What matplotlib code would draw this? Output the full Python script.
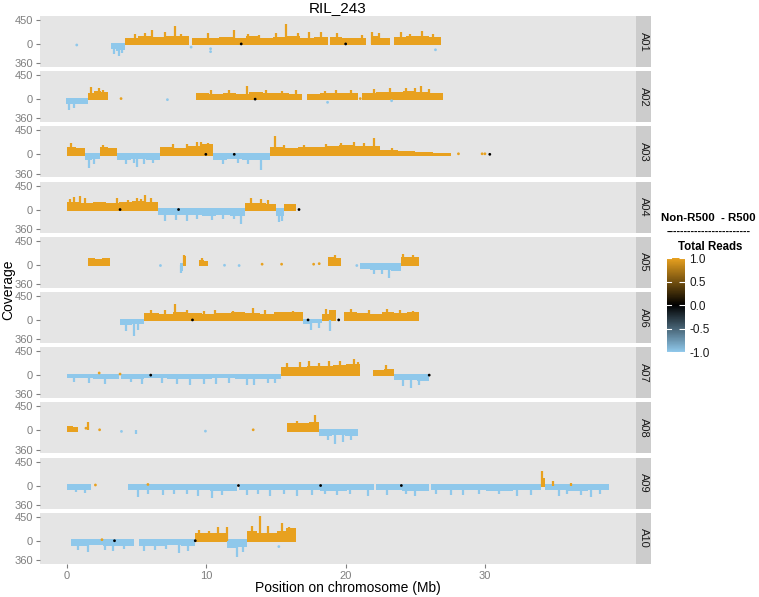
import numpy as np
import matplotlib
matplotlib.use("Agg")
import matplotlib.pyplot as plt
from matplotlib.colors import LinearSegmentedColormap, Normalize
import matplotlib.colorbar as mcb

plt.rcParams['font.family'] = ['Liberation Sans', 'DejaVu Sans']

# ---- data ----
# blocks: (start Mb, end Mb, ratio sign, [coverage heights along the block])
# cols:   (Mb, coverage) columns of points sticking out of a block
# pts:    (Mb, coverage, ratio) isolated points
chroms = ["A01", "A02", "A03", "A04", "A05", "A06", "A07", "A08", "A09", "A10"]

a01_blocks = [(3.15, 4.15, -1, [-100, -140, -120]),
              (4.15, 8.78, 1, [120, 140, 130, 150, 140]),
              (8.97, 18.7, 1, [120, 105, 130, 115, 140, 120, 130, 140, 115, 130]),
              (18.9, 21.45, 1, [130, 105, 120]),
              (21.8, 23.2, 1, [140, 120]),
              (23.45, 26.86, 1, [130, 150, 140, 130])]
a01_cols = [(3.4, -190), (3.7, -220), (3.95, -170), (4.9, 190), (5.6, 210), (6.1, 265), (7.0, 220),
            (7.75, 340), (8.2, 180), (10.1, 210), (12.0, 265), (13.0, 190), (13.8, 170), (15.0, 210),
            (15.7, 370), (16.6, 210), (17.4, 230), (18.2, 225), (19.4, 210), (21.2, 170), (21.9, 230),
            (22.4, 210), (24.0, 230), (24.6, 190), (25.5, 240), (26.3, 190)]
a01_pts = [(0.69, -20, -1), (8.9, -60, -1), (10.3, -145, -1), (10.3, -90, -1), (26.45, -110, -1),
           (12.5, 0, 0), (20.0, 0, 0)]

a02_blocks = [(-0.05, 1.48, -1, [-100, -85, -100]),
              (1.48, 2.9, 1, [110, 150, 130]),
              (9.25, 16.9, 1, [110, 95, 120, 105, 130, 110, 120, 105]),
              (17.2, 20.9, 1, [95, 110, 120, 110]),
              (21.2, 27.0, 1, [120, 140, 130, 150, 140, 120])]
a02_cols = [(0.15, -210), (0.5, -170), (1.7, 220), (2.3, 200), (2.6, 180), (10.3, 180), (11.6, 170),
            (12.95, 245), (14.3, 180), (15.4, 160), (16.4, 170), (18.5, 160), (19.3, 170), (20.4, 180),
            (22.0, 190), (23.2, 200), (24.3, 200), (25.0, 210), (25.4, 250), (26.0, 190)]
a02_pts = [(3.87, 10, 1), (7.2, -10, -1), (18.7, -60, -1), (23.3, -30, -1), (21.05, 10, 1), (13.5, 0, 0)]

a03_blocks = [(0.0, 1.27, 1, [130, 115]),
              (1.27, 2.35, -1, [-110, -85]),
              (2.35, 3.58, 1, [140, 125]),
              (3.58, 6.7, -1, [-110, -95, -115]),
              (6.7, 10.45, 1, [140, 125, 150, 190]),
              (10.45, 14.6, -1, [-110, -95, -115, -105]),
              (14.6, 22.5, 1, [140, 125, 130, 140, 160, 180, 160, 150]),
              (22.5, 25.0, 1, [80, 55]),
              (25.0, 27.6, 1, [40, 30])]
a03_cols = [(0.3, 220), (1.6, -260), (1.9, -190), (2.6, 170), (4.2, -190), (4.8, -170), (5.0, -230),
            (5.5, -180), (6.2, -170), (7.6, 190), (8.6, 200), (9.3, 230), (9.6, 240), (10.1, 210),
            (11.2, -180), (12.3, -160), (13.0, -190), (13.9, -300), (14.9, 350), (15.6, 180), (17.0, 170),
            (18.6, 190), (19.7, 210), (20.6, 230), (21.3, 210), (22.0, 300), (23.3, 110)]
a03_pts = [(28.1, 10, 1), (29.8, 10, 1), (30.0, 10, 1), (30.35, 0, 0), (9.96, 0, 0), (12.0, 0, 0)]

a04_blocks = [(0.0, 6.55, 1, [150, 125, 140, 125, 150, 160, 140]),
              (6.55, 12.76, -1, [-95, -105, -95, -115, -105, -115]),
              (12.76, 15.0, 1, [120, 130, 110]),
              (15.0, 15.6, -1, [-120]),
              (15.6, 16.4, 1, [100, 110])]
a04_cols = [(0.2, 200), (0.5, 240), (0.9, 250), (1.3, 210), (3.6, 220), (4.4, 180), (5.0, 220),
            (5.3, 200), (5.6, 275), (6.0, 210), (7.0, -210), (7.8, -190), (8.6, -220), (9.3, -180),
            (10.4, -190), (11.2, -170), (12.0, -180), (12.45, -275), (13.2, 210), (13.9, 190),
            (14.4, 180), (15.2, -230), (15.45, -210)]
a04_pts = [(3.8, 0, 0), (8.0, 0, 0), (16.65, 0, 0)]

a05_blocks = [(1.5, 3.05, 1, [130, 110, 130]),
              (8.1, 8.35, -1, [-120]),
              (8.35, 8.5, 1, [160]),
              (9.5, 10.1, 1, [85, 70]),
              (18.7, 19.7, 1, [150, 130]),
              (21.0, 24.0, -1, [-85, -105, -95, -115]),
              (24.0, 25.3, 1, [140, 150])]
a05_cols = [(8.2, -150), (8.4, 180), (9.7, 120), (19.2, 190), (22.0, -180), (22.6, -170), (23.1, -250),
            (24.1, 210), (24.8, 180)]
a05_pts = [(6.7, -15, -1), (11.3, -10, -1), (12.35, -15, -1), (14.0, 10, 1), (15.4, 10, 1),
           (17.7, 10, 1), (18.1, 20, 1), (20.8, -15, -1)]

a06_blocks = [(3.76, 5.54, -1, [-100, -85]),
              (5.54, 16.93, 1, [130, 115, 140, 125, 115, 130, 140, 125, 115, 140, 150]),
              (16.93, 18.3, -1, [-85, -60]),
              (18.3, 19.3, 1, [110, 180]),
              (19.9, 25.3, 1, [140, 125, 115, 140, 125, 150])]
a06_cols = [(4.2, -210), (4.8, -300), (5.1, -190), (6.0, 190), (7.0, 180), (7.77, 295), (8.6, 180),
            (9.8, 170), (10.6, 180), (11.9, 170), (13.36, 220), (14.2, 180), (16.2, 170), (17.5, -180),
            (18.1, -150), (18.85, -210), (18.6, 210), (19.0, 190), (20.4, 200), (21.7, 180),
            (22.96, 210), (23.9, 190), (24.8, 170)]
a06_pts = [(19.5, 0, 0), (9.0, 0, 0), (17.3, 0, 0)]

a07_blocks = [(0.0, 3.75, -1, [-60, -70]),
              (3.85, 15.35, -1, [-70, -60, -80, -70, -60, -80, -70]),
              (15.35, 21.0, 1, [160, 150, 180, 170, 190, 200]),
              (21.95, 23.5, 1, [95, 115]),
              (23.5, 25.98, -1, [-95, -85, -105])]
a07_cols = [(0.5, -120), (1.6, -150), (2.7, -170), (4.6, -130), (5.4, -160), (6.8, -140), (7.9, -170),
            (8.8, -180), (9.8, -170), (10.7, -160), (11.6, -150), (12.9, -190), (13.4, -180),
            (14.4, -150), (14.9, -140), (15.8, 230), (16.7, 250), (17.4, 270), (18.1, 230), (18.8, 260),
            (19.6, 270), (20.6, 300), (20.9, 250), (22.9, 190), (24.1, -210), (24.7, -250), (25.3, -190)]
a07_pts = [(2.3, 40, 1), (3.8, 20, 1), (6.0, 0, 0), (26.0, 0, 0)]

a08_blocks = [(0.0, 0.8, 1, [85, 70]),
              (15.8, 18.1, 1, [140, 130, 150]),
              (18.1, 20.9, -1, [-110, -95, -110])]
a08_cols = [(1.5, 160), (4.94, -70), (17.8, 290), (16.5, 180), (18.7, -190), (19.2, -250),
            (19.8, -210), (20.4, -180)]
a08_pts = [(1.35, 40, 1), (2.33, 10, 1), (3.9, -20, -1), (9.93, -15, -1), (13.36, 10, 1)]

a09_blocks = [(0.0, 1.7, -1, [-85, -75]),
              (4.39, 12.2, -1, [-85, -75, -85, -95]),
              (12.35, 22.0, -1, [-85, -75, -85, -95, -85]),
              (22.15, 26.0, -1, [-85, -95]),
              (26.15, 34.0, -1, [-85, -75, -95, -85]),
              (34.0, 34.35, 1, [140]),
              (34.35, 38.9, -1, [-85, -95, -85])]
a09_cols = [(0.6, -130), (1.3, -140), (5.1, -210), (5.8, -150), (6.9, -170), (7.7, -160), (8.6, -150),
            (9.4, -190), (10.4, -230), (11.1, -170), (12.9, -180), (13.7, -160), (14.6, -190),
            (15.6, -160), (16.5, -200), (17.6, -170), (18.5, -150), (19.4, -180), (20.3, -160),
            (21.6, -190), (23.0, -180), (24.3, -160), (25.0, -190), (26.5, -160), (27.6, -180),
            (28.4, -170), (29.6, -150), (31.0, -160), (32.3, -190), (33.3, -180), (34.1, 280),
            (34.9, 90), (35.3, -200), (35.9, -160), (36.2, 50), (36.9, -170), (37.6, -210), (38.3, -160)]
a09_pts = [(2.03, 10, 1), (5.8, 20, 1), (12.3, 0, 0), (18.2, 0, 0), (24.0, 0, 0)]

a10_blocks = [(0.29, 4.82, -1, [-95, -85, -105, -95]),
              (5.18, 9.18, -1, [-95, -105, -85, -95]),
              (9.18, 11.47, 1, [140, 150, 140]),
              (11.47, 12.9, -1, [-130, -115]),
              (12.9, 16.46, 1, [180, 150, 140, 190, 240])]
a10_cols = [(0.8, -180), (1.5, -210), (2.7, -170), (3.3, -190), (4.1, -160), (5.5, -190), (6.3, -170),
            (7.1, -160), (8.0, -230), (8.7, -190), (9.5, 210), (10.2, 190), (10.8, 250), (11.45, 250),
            (12.2, -300), (12.6, -210), (13.3, 270), (13.85, 460), (14.4, 280), (15.4, 325), (15.9, 250)]
a10_pts = [(2.5, 20, 1), (15.2, -110, -1), (3.4, 0, 0), (9.2, 0, 0)]

all_blocks = [a01_blocks, a02_blocks, a03_blocks, a04_blocks, a05_blocks,
              a06_blocks, a07_blocks, a08_blocks, a09_blocks, a10_blocks]
all_cols = [a01_cols, a02_cols, a03_cols, a04_cols, a05_cols,
            a06_cols, a07_cols, a08_cols, a09_cols, a10_cols]
all_pts = [a01_pts, a02_pts, a03_pts, a04_pts, a05_pts,
           a06_pts, a07_pts, a08_pts, a09_pts, a10_pts]

xticks = [0, 10, 20, 30]
yticks = [-360, 0, 450]
ytick_labels = ["360", "0", "450"]

# ---- style ----
ORANGE = "#E8A11F"
BLUE = "#8FC8EB"
cmap = LinearSegmentedColormap.from_list("cov", [BLUE, "#000000", ORANGE])
norm = Normalize(-1, 1)
GRAY = "#7F7F7F"

W, H = 759, 597
fig = plt.figure(figsize=(W / 100, H / 100), dpi=100)

left, right = 40, 636
ph, pitch, top0 = 51, 55.2, 16

for i, name in enumerate(chroms):
    top = top0 + i * pitch
    bottom = 1 - (top + ph) / H
    ax = fig.add_axes([left / W, bottom, (right - left) / W, ph / H])
    ax.set_facecolor("#E5E5E5")
    for sp in ax.spines.values():
        sp.set_visible(False)

    for s, e, sign, hs in all_blocks[i]:
        n = len(hs)
        w = (e - s) / n
        lefts = s + w * np.arange(n)
        # dots sitting on the zero line poke a little past it
        ax.bar(lefts, np.array(hs) + 25 * sign, width=w, bottom=-25 * sign, align="edge",
               color=cmap(norm(sign)), linewidth=0)

    for x, y in all_cols[i]:
        c = cmap(norm(np.sign(y)))
        ax.vlines(x, 0, y, color=c, linewidth=1.6)

    if all_pts[i]:
        px = [p[0] for p in all_pts[i]]
        py = [p[1] for p in all_pts[i]]
        pc = [cmap(norm(p[2])) for p in all_pts[i]]
        ax.scatter(px, py, s=4, c=pc, linewidths=0, zorder=3)

    ax.set_xlim(-1.95, 40.85)
    ax.set_ylim(-433, 524)
    ax.set_yticks(yticks)
    ax.set_yticklabels(ytick_labels)
    ax.tick_params(axis="y", length=3, color=GRAY, labelcolor=GRAY, labelsize=8, pad=2)
    ax.set_xticks(xticks)
    if i == len(chroms) - 1:
        ax.tick_params(axis="x", length=3, color=GRAY, labelcolor=GRAY, labelsize=8, pad=2)
    else:
        ax.tick_params(axis="x", length=0, labelbottom=False)

    # facet strip
    st = fig.add_axes([right / W, bottom, 15 / W, ph / H])
    st.set_facecolor("#CCCCCC")
    st.set_xticks([])
    st.set_yticks([])
    for sp in st.spines.values():
        sp.set_visible(False)
    st.text(0.5, 0.5, name, rotation=-90, ha="center", va="center", fontsize=8,
            color="#1A1A1A", transform=st.transAxes)

fig.text((left + right) / 2 / W, 1 - 8 / H, "RIL_243", ha="center", va="center", fontsize=11)
fig.text(348 / W, 1 - 588 / H, "Position on chromosome (Mb)", ha="center", va="center", fontsize=10)
fig.text(8 / W, 1 - 290 / H, "Coverage", ha="center", va="center", rotation=90, fontsize=10)

# legend
fig.text(708 / W, 1 - 218 / H, "Non-R500  - R500", ha="center", va="center", fontsize=8.2,
         fontweight="bold")
fig.text(709 / W, 1 - 232 / H, "------------------------", ha="center", va="center", fontsize=7.8,
         fontweight="bold")
fig.text(710 / W, 1 - 247 / H, "Total Reads", ha="center", va="center", fontsize=8.3,
         fontweight="bold")

cax = fig.add_axes([667 / W, 1 - 352 / H, 18 / W, 94 / H])
cb = mcb.ColorbarBase(cax, cmap=cmap, norm=norm, orientation="vertical")
cb.outline.set_visible(False)
cb.set_ticks([-1, -0.5, 0, 0.5, 1])
cb.set_ticklabels(["-1.0", "-0.5", "0.0", "0.5", "1.0"])
cax.tick_params(length=4, color="white", direction="in", labelsize=8.5, labelcolor="#1A1A1A", pad=3)
for t in [-1, -0.5, 0, 0.5, 1]:
    cax.plot([0, 0.2], [t, t], color="white", linewidth=0.8, transform=cax.get_yaxis_transform())

fig.savefig("out.png", dpi=100)
